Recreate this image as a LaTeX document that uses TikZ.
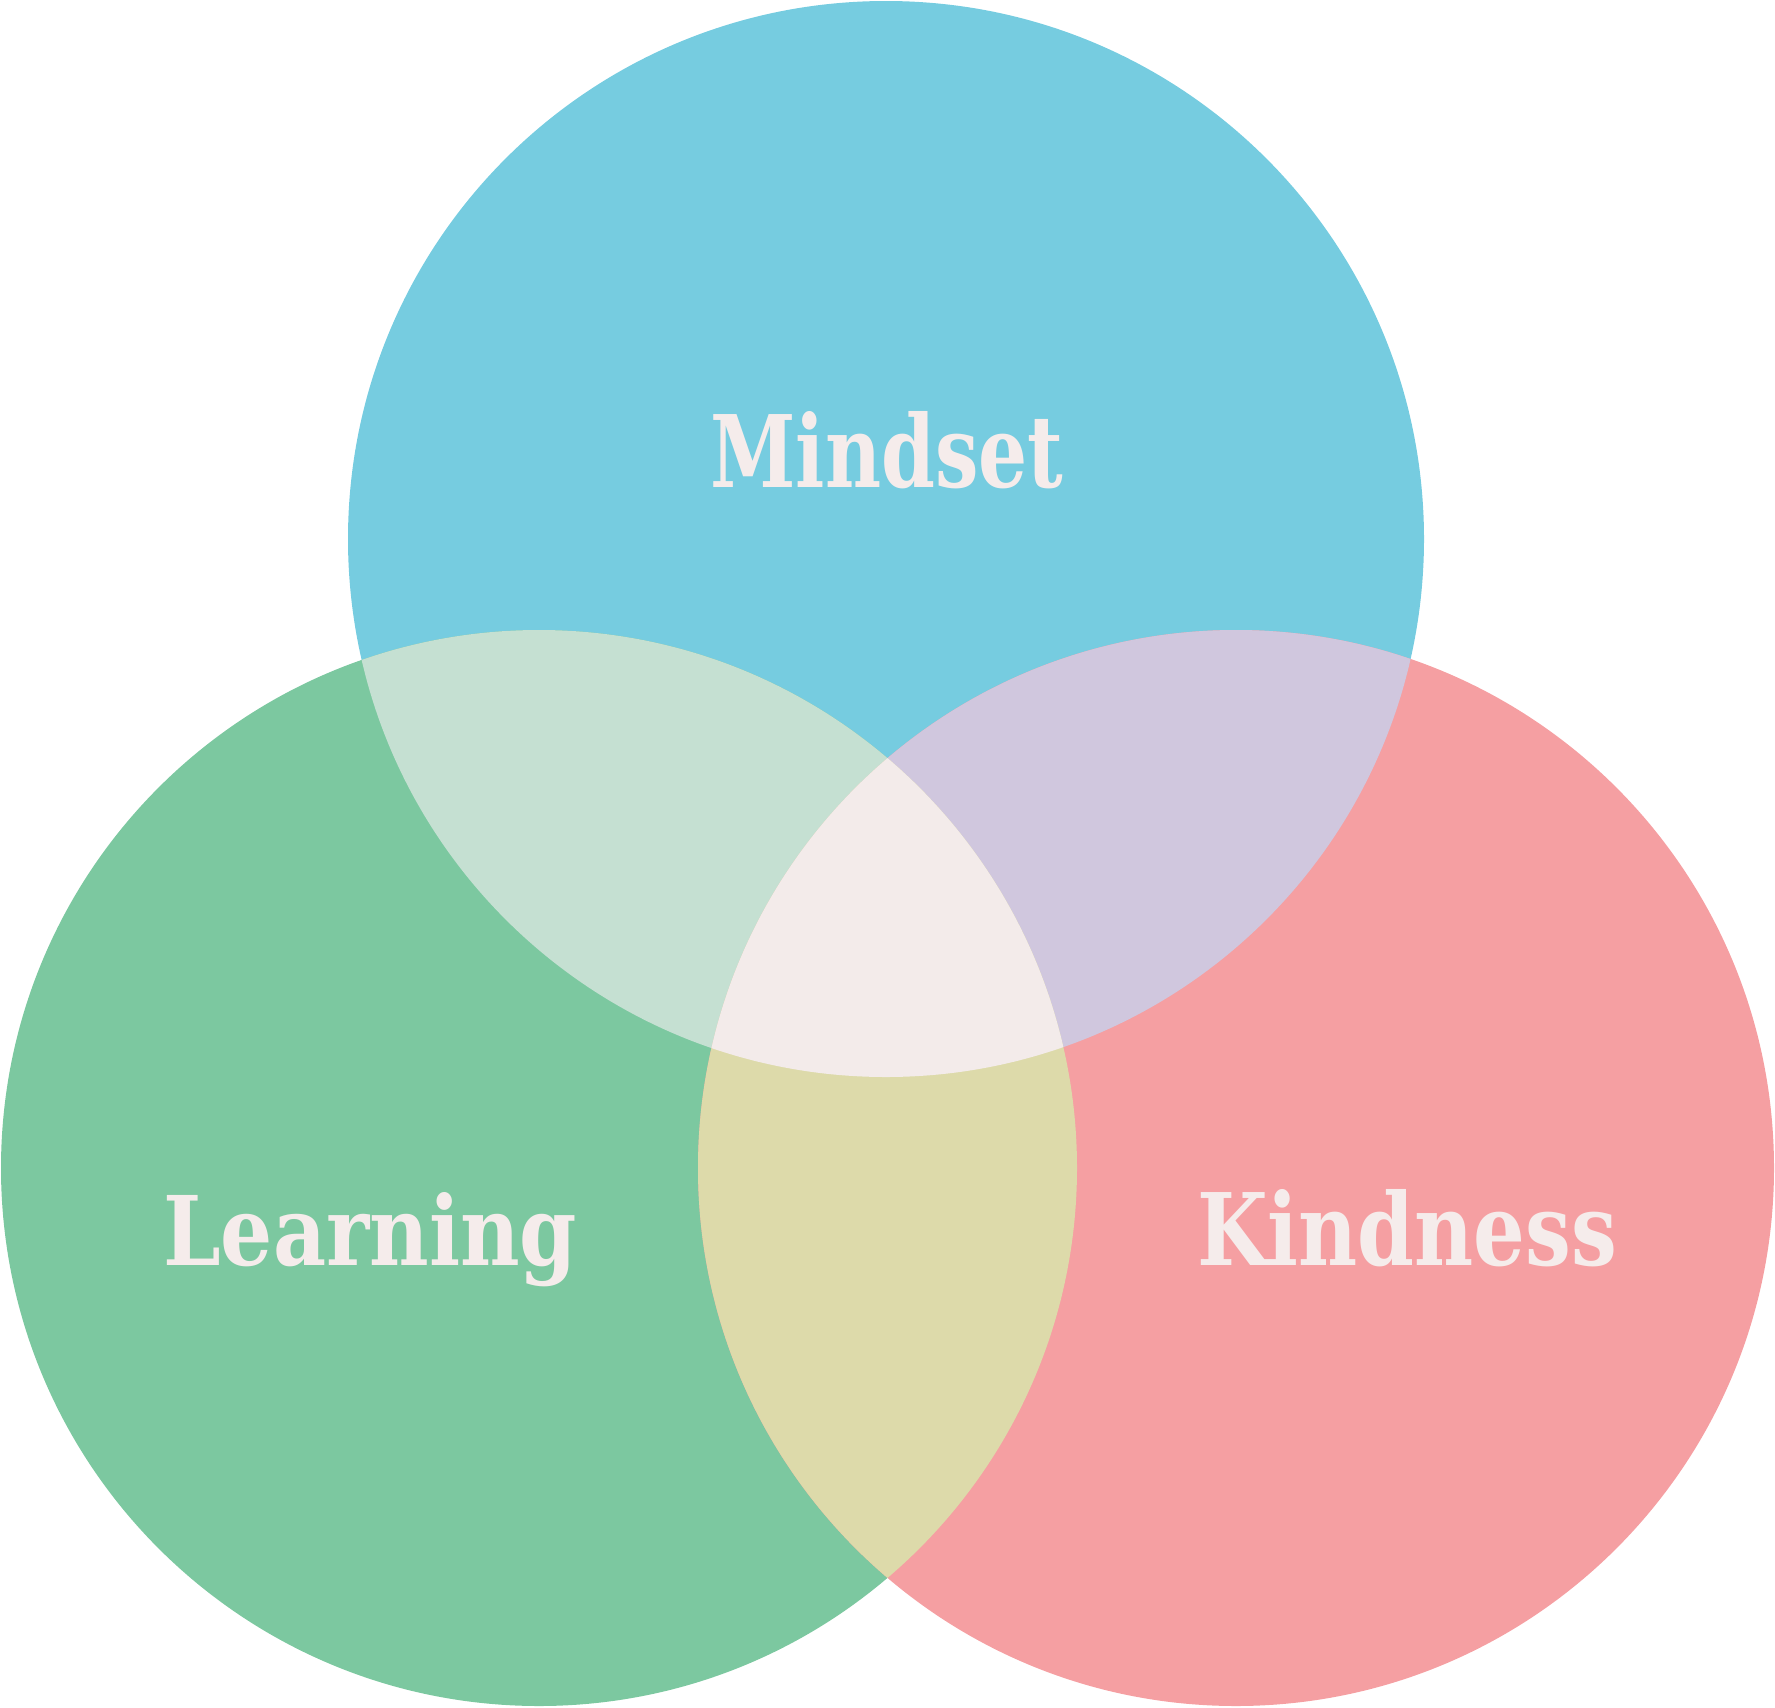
\documentclass[tikz,border=0pt]{standalone}
\usepackage{fontspec}
\setmainfont{DejaVu Serif}
\usepackage{graphicx}
\definecolor{cblue}{HTML}{76CCE0}
\definecolor{cgreen}{HTML}{7CC8A0}
\definecolor{cpink}{HTML}{F59FA2}
\definecolor{cml}{HTML}{C5E0D2}
\definecolor{cmk}{HTML}{D0C7DE}
\definecolor{clk}{HTML}{DDDAAA}
\definecolor{ccenter}{HTML}{F3EBEA}
\definecolor{ctext}{HTML}{F5ECEB}
\tikzset{lbl/.style={anchor=base west, inner sep=0pt, text=ctext, font=\bfseries}}
\begin{document}
\begin{tikzpicture}[x=1pt,y=-1pt]
\useasboundingbox (0,0) rectangle (1775,1708);
\coordinate (m) at (886,539);
\coordinate (l) at (539,1168);
\coordinate (k) at (1236,1168);
\fill[cblue] (m) circle (538pt);
\fill[cgreen] (l) circle (538pt);
\fill[cpink] (k) circle (538pt);
\begin{scope}
  \clip (m) circle (538pt);
  \fill[cml] (l) circle (538pt);
  \fill[cmk] (k) circle (538pt);
\end{scope}
\begin{scope}
  \clip (l) circle (538pt);
  \fill[clk] (k) circle (538pt);
\end{scope}
\begin{scope}
  \clip (m) circle (538pt);
  \clip (l) circle (538pt);
  \fill[ccenter] (k) circle (538pt);
\end{scope}
\node[lbl] (tm) at (710,487) {\resizebox{353pt}{76pt}{Mindset}};
\node[lbl] (tl) at (163,1265) {\resizebox{414pt}{73pt}{Learning}};
\node[lbl] (tk) at (1197,1265) {\resizebox{420pt}{76pt}{Kindness}};
\end{tikzpicture}
\end{document}
